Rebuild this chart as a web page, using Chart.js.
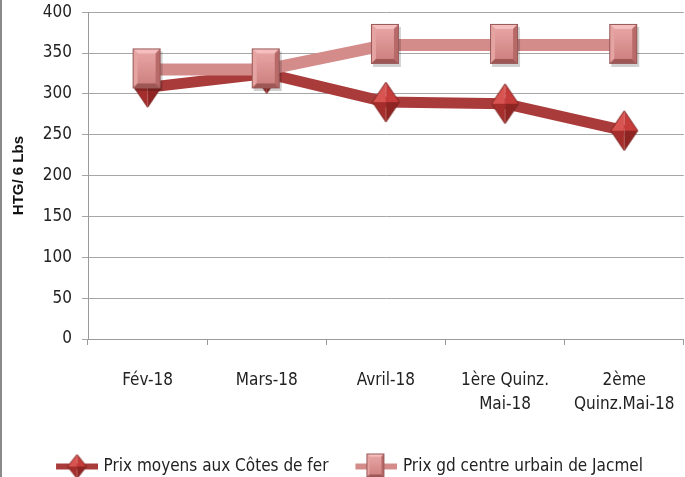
<!DOCTYPE html>
<html>
<head>
<meta charset="utf-8">
<script src="https://cdn.jsdelivr.net/npm/chart.js@4/dist/chart.umd.min.js"></script>
<style>
  body { margin: 0; overflow: hidden; background: #fff; }
  #wrap { position: relative; width: 700px; height: 485px; margin-top: -8px; }
  #edge { position: absolute; left: 0; top: 0; width: 2px; height: 477px; background: #8a8a8a; z-index: 2; }
</style>
</head>
<body>
<div id="edge"></div>
<div id="wrap"><canvas id="prixChart"></canvas></div>
<script>
const categories = ['Fév-18', 'Mars-18', 'Avril-18', ['1ère Quinz.', 'Mai-18'], ['2ème', 'Quinz.Mai-18']];
const prixCotesDeFer = [308, 325, 290, 288, 255];
const prixJacmel = [330, 330, 360, 360, 360];
const yMin = 0, yMax = 400, yStep = 50;

const darkRed = '#a93c3b';
const pink = '#d48c8b';
const narrow = '"Liberation Sans Narrow", "DejaVu Sans Condensed", sans-serif';

// bevelled marker pictures
function squareMarker(w, h, shadow){
    const c = document.createElement('canvas');
    c.width = w + 4; c.height = h + 4;
    const ctx = c.getContext('2d');
    if (shadow) {
        ctx.fillStyle = 'rgba(0,0,0,0.18)';
        ctx.fillRect(3, 4, w, h);
    }
    const b = Math.round(w * 0.18);
    ctx.fillStyle = '#d98e8d';
    ctx.fillRect(1, 1, w, h);
    // top
    ctx.fillStyle = '#f4bfbe';
    ctx.beginPath(); ctx.moveTo(1, 1); ctx.lineTo(1 + w, 1); ctx.lineTo(1 + w - b, 1 + b); ctx.lineTo(1 + b, 1 + b); ctx.fill();
    // left
    ctx.fillStyle = '#e5a3a2';
    ctx.beginPath(); ctx.moveTo(1, 1); ctx.lineTo(1 + b, 1 + b); ctx.lineTo(1 + b, 1 + h - b); ctx.lineTo(1, 1 + h); ctx.fill();
    // right
    ctx.fillStyle = '#b86a69';
    ctx.beginPath(); ctx.moveTo(1 + w, 1); ctx.lineTo(1 + w, 1 + h); ctx.lineTo(1 + w - b, 1 + h - b); ctx.lineTo(1 + w - b, 1 + b); ctx.fill();
    // bottom
    ctx.fillStyle = '#9f5756';
    ctx.beginPath(); ctx.moveTo(1, 1 + h); ctx.lineTo(1 + b, 1 + h - b); ctx.lineTo(1 + w - b, 1 + h - b); ctx.lineTo(1 + w, 1 + h); ctx.fill();
    const g = ctx.createLinearGradient(0, 1 + b, 0, 1 + h - b);
    g.addColorStop(0, '#e7a4a3');
    g.addColorStop(1, '#cf8382');
    ctx.fillStyle = g;
    ctx.fillRect(1 + b, 1 + b, w - 2 * b, h - 2 * b);
    ctx.strokeStyle = '#965756';
    ctx.lineWidth = 1;
    ctx.strokeRect(1.5, 1.5, w - 1, h - 1);
    return c;
}

function diamondMarker(w, h){
    const c = document.createElement('canvas');
    c.width = w + 2; c.height = h + 2;
    const ctx = c.getContext('2d');
    const cx = 1 + w / 2, cy = 1 + h / 2;
    const t = [cx, 1], r = [1 + w, cy], bt = [cx, 1 + h], l = [1, cy];
    const m = [cx, cy];
    const tri = (a, b, col) => {
        ctx.fillStyle = col;
        ctx.beginPath(); ctx.moveTo(a[0], a[1]); ctx.lineTo(b[0], b[1]); ctx.lineTo(m[0], m[1]); ctx.closePath(); ctx.fill();
    };
    tri(l, t, '#d85451');
    tri(t, r, '#c63c3a');
    tri(r, bt, '#8f2523');
    tri(bt, l, '#a52e2c');
    ctx.strokeStyle = '#7d2220';
    ctx.lineWidth = 1;
    ctx.beginPath(); ctx.moveTo(t[0], t[1]); ctx.lineTo(r[0], r[1]); ctx.lineTo(bt[0], bt[1]); ctx.lineTo(l[0], l[1]); ctx.closePath(); ctx.stroke();
    return c;
}

// legend symbol: line with a small marker, blank strip on the left for spacing
function legendSymbol(color, marker){
    const c = document.createElement('canvas');
    c.width = 52; c.height = 28;
    const ctx = c.getContext('2d');
    ctx.strokeStyle = color;
    ctx.lineWidth = 6;
    ctx.beginPath(); ctx.moveTo(10, 14); ctx.lineTo(52, 14); ctx.stroke();
    ctx.drawImage(marker, 31 - marker.width / 2, 14 - marker.height / 2);
    return c;
}

const diamond = diamondMarker(27, 40);
const square = squareMarker(28, 40, true);
const legendDiamond = legendSymbol(darkRed, diamondMarker(19, 24));
const legendSquare = legendSymbol(pink, squareMarker(18, 24, false));

const legendShift = {
    id: 'legendShift',
    afterLayout(chart){
        chart.legend.top += 8;
        chart.legend.bottom += 8;
    }
};

new Chart(document.getElementById('prixChart'), {
    type: 'line',
    data: {
        labels: categories,
        datasets: [{
            label: 'Prix moyens aux Côtes de fer',
            data: prixCotesDeFer,
            borderColor: darkRed,
            backgroundColor: darkRed,
            borderWidth: 11,
            pointStyle: diamond,
            order: 2,
            tension: 0
        }, {
            label: 'Prix gd centre urbain de Jacmel',
            data: prixJacmel,
            borderColor: pink,
            backgroundColor: pink,
            borderWidth: 12,
            pointStyle: square,
            order: 1,
            tension: 0
        }]
    },
    plugins: [legendShift],
    options: {
        responsive: true,
        maintainAspectRatio: false,
        animation: false,
        events: [],
        layout: { padding: { top: 11, right: 8, left: 0, bottom: 0 } },
        plugins: {
            tooltip: { enabled: false },
            legend: {
                position: 'bottom',
                labels: {
                    usePointStyle: true,
                    pointStyleWidth: 46,
                    padding: 20,
                    color: '#222',
                    font: { family: narrow, size: 17 },
                    generateLabels: () => [
                        { text: 'Prix moyens aux Côtes de fer', pointStyle: legendDiamond, fillStyle: darkRed, strokeStyle: darkRed, lineWidth: 0, datasetIndex: 0, fontColor: '#222' },
                        { text: 'Prix gd centre urbain de Jacmel', pointStyle: legendSquare, fillStyle: pink, strokeStyle: pink, lineWidth: 0, datasetIndex: 1, fontColor: '#222' }
                    ]
                }
            }
        },
        scales: {
            x: {
                offset: true,
                grid: { offset: true, drawOnChartArea: false, drawTicks: true, tickLength: 6, color: '#9a9a9a' },
                border: { color: '#9a9a9a', width: 1 },
                ticks: {
                    color: '#222',
                    padding: 24,
                    maxRotation: 0,
                    autoSkip: false,
                    font: { family: narrow, size: 17, lineHeight: 1.4 }
                },
                afterFit: scale => { scale.height = 91; }
            },
            y: {
                min: yMin,
                max: yMax,
                ticks: {
                    stepSize: yStep,
                    color: '#222',
                    padding: 10,
                    font: { family: narrow, size: 17 }
                },
                grid: { color: '#a6a6a6', tickLength: 6 },
                border: { color: '#9a9a9a', width: 1 },
                title: {
                    display: true,
                    text: 'HTG/ 6 Lbs',
                    color: '#111',
                    font: { family: 'Liberation Sans, Arial, sans-serif', size: 15, weight: 'bold' },
                    padding: { top: 10, bottom: 4 }
                },
                afterFit: scale => { scale.width = 88; }
            }
        }
    }
});
</script>
</body>
</html>
